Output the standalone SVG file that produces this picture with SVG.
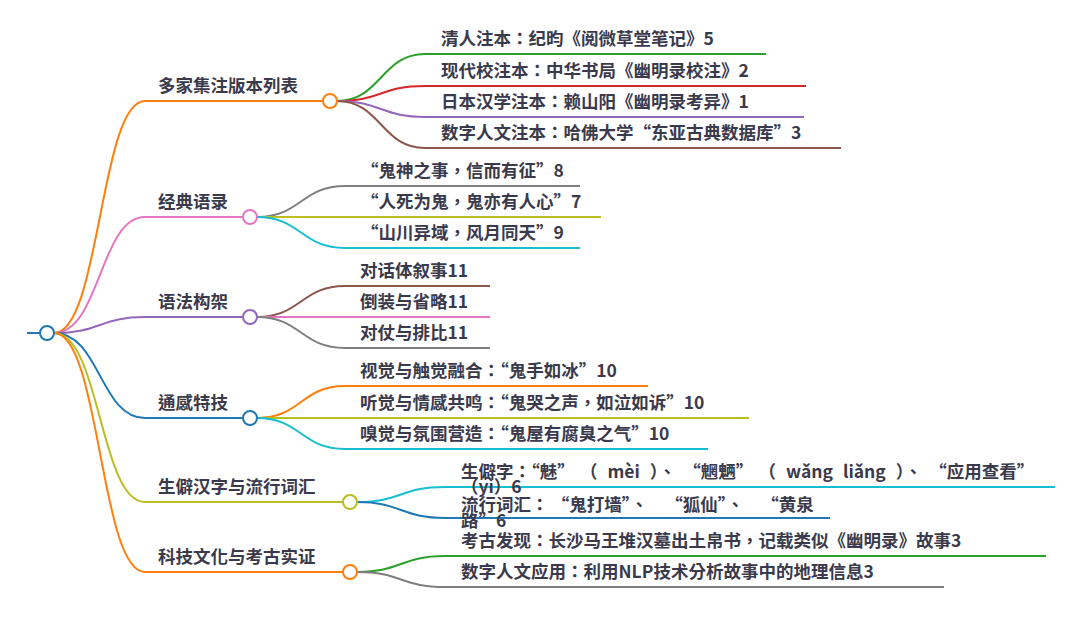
<svg xmlns="http://www.w3.org/2000/svg" width="1080" height="617" viewBox="0 0 1080 617">
<style>
text{font-family:"Noto Sans CJK TC","Noto Sans CJK SC","Noto Sans",sans-serif;font-size:17.5px;font-weight:bold;fill:#3a3a4c}
.l{fill:none;stroke-width:2}
.c{fill:#fff;stroke-width:2}
.ws{word-spacing:6px}
</style>
<rect width="1080" height="617" fill="#fff"/>
<g id="connectors">
<path class="l" stroke="#1f77b4" d="M27,333 L40,333"/>
<path class="l" stroke="#ff7f0e" d="M54,333 C100,333 100,101 145,101 L323,101"/>
<path class="l" stroke="#e377c2" d="M54,333 C100,333 100,217 145,217 L243,217"/>
<path class="l" stroke="#9467bd" d="M54,333 C100,333 100,317 145,317 L243,317"/>
<path class="l" stroke="#1f77b4" d="M54,333 C100,333 100,418 145,418 L243,418"/>
<path class="l" stroke="#bcbd22" d="M54,333 C100,333 100,502 145,502 L343,502"/>
<path class="l" stroke="#ff7f0e" d="M54,333 C100,333 100,572 145,572 L343,572"/>
<path class="l" stroke="#2ca02c" d="M337,101 C381,101 381,54 425,54 L766,54"/>
<path class="l" stroke="#d62728" d="M337,101 C381,101 381,86 425,86 L806,86"/>
<path class="l" stroke="#9467bd" d="M337,101 C381,101 381,117 425,117 L804,117"/>
<path class="l" stroke="#8c564b" d="M337,101 C381,101 381,148 425,148 L841,148"/>
<path class="l" stroke="#7f7f7f" d="M257,217 C301,217 301,186 345,186 L580,186"/>
<path class="l" stroke="#bcbd22" d="M257,217 C301,217 301,217 345,217 L601,217"/>
<path class="l" stroke="#17becf" d="M257,217 C301,217 301,248 345,248 L580,248"/>
<path class="l" stroke="#8c564b" d="M257,317 C301,317 301,286 345,286 L490,286"/>
<path class="l" stroke="#e377c2" d="M257,317 C301,317 301,317 345,317 L490,317"/>
<path class="l" stroke="#7f7f7f" d="M257,317 C301,317 301,348 345,348 L490,348"/>
<path class="l" stroke="#ff7f0e" d="M257,418 C301,418 301,386 345,386 L648,386"/>
<path class="l" stroke="#bcbd22" d="M257,418 C301,418 301,418 345,418 L749,418"/>
<path class="l" stroke="#17becf" d="M257,418 C301,418 301,449 345,449 L708,449"/>
<path class="l" stroke="#17becf" d="M357,502 C401,502 401,487 445,487 L1055,487"/>
<path class="l" stroke="#1f77b4" d="M357,502 C401,502 401,518 445,518 L830,518"/>
<path class="l" stroke="#2ca02c" d="M357,572 C401,572 401,556 445,556 L1046,556"/>
<path class="l" stroke="#7f7f7f" d="M357,572 C401,572 401,587 445,587 L944,587"/>
</g>
<g id="root"><circle class="c" stroke="#1f77b4" cx="47" cy="333" r="7"/></g>
<g id="n1"><text x="158" y="92">多家集注版本列表</text><circle class="c" stroke="#ff7f0e" cx="330" cy="101" r="7"/></g>
<g id="n1a"><text x="441" y="45">清人注本：纪昀《阅微草堂笔记》5</text></g>
<g id="n1b"><text x="441" y="77">现代校注本：中华书局《幽明录校注》2</text></g>
<g id="n1c"><text x="441" y="108">日本汉学注本：赖山阳《幽明录考异》1</text></g>
<g id="n1d"><text x="441" y="139">数字人文注本：哈佛大学“东亚古典数据库”3</text></g>
<g id="n2"><text x="158" y="208">经典语录</text><circle class="c" stroke="#e377c2" cx="250" cy="217" r="7"/></g>
<g id="n2a"><text x="361" y="177">“鬼神之事，信而有征”8</text></g>
<g id="n2b"><text x="361" y="208">“人死为鬼，鬼亦有人心”7</text></g>
<g id="n2c"><text x="361" y="239">“山川异域，风月同天”9</text></g>
<g id="n3"><text x="158" y="308">语法构架</text><circle class="c" stroke="#9467bd" cx="250" cy="317" r="7"/></g>
<g id="n3a"><text x="360" y="277">对话体叙事11</text></g>
<g id="n3b"><text x="360" y="308">倒装与省略11</text></g>
<g id="n3c"><text x="360" y="339">对仗与排比11</text></g>
<g id="n4"><text x="158" y="409">通感特技</text><circle class="c" stroke="#1f77b4" cx="250" cy="418" r="7"/></g>
<g id="n4a"><text x="360" y="377">视觉与触觉融合：“鬼手如冰”10</text></g>
<g id="n4b"><text x="360" y="409">听觉与情感共鸣：“鬼哭之声，如泣如诉”10</text></g>
<g id="n4c"><text x="360" y="440">嗅觉与氛围营造：“鬼屋有腐臭之气”10</text></g>
<g id="n5"><text x="158" y="493">生僻汉字与流行词汇</text><circle class="c" stroke="#bcbd22" cx="350" cy="502" r="7"/></g>
<g id="n5a"><text class="ws" x="461" y="478">生僻字：“魅”<tspan dx="14">（ mèi ）、</tspan><tspan dx="16">“魍魉”</tspan><tspan dx="14">（ wǎng liǎng ）、</tspan><tspan dx="16">“应用查看”</tspan></text><text x="461" y="493">（yì）6</text></g>
<g id="n5b"><text x="461" y="511">流行词汇：<tspan dx="12">“鬼打墙”、</tspan><tspan dx="26">“狐仙”、</tspan><tspan dx="26">“黄泉</tspan></text><text x="461" y="527">路”6</text></g>
<g id="n6"><text x="158" y="563">科技文化与考古实证</text><circle class="c" stroke="#ff7f0e" cx="350" cy="572" r="7"/></g>
<g id="n6a"><text x="461" y="547">考古发现：长沙马王堆汉墓出土帛书，记载类似《幽明录》故事3</text></g>
<g id="n6b"><text x="461" y="578">数字人文应用：利用NLP技术分析故事中的地理信息3</text></g>
</svg>
